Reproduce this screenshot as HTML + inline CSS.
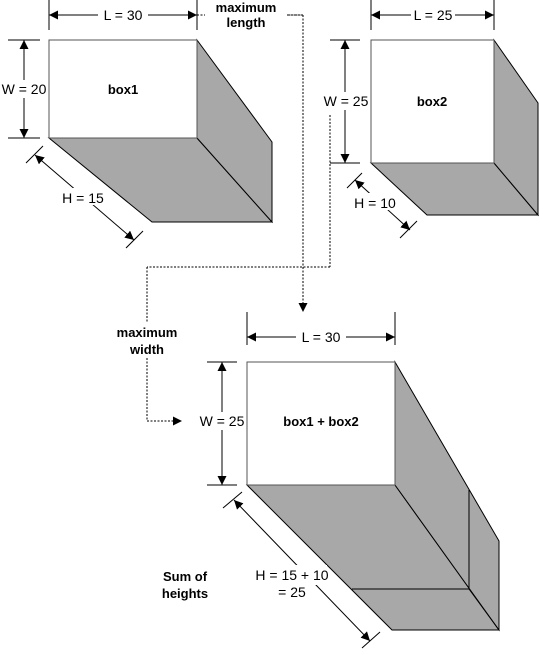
<!DOCTYPE html>
<html><head><meta charset="utf-8"><style>
html,body{margin:0;padding:0;background:#fff}
svg{display:block}
text{font-family:"Liberation Sans",sans-serif;font-size:14px;fill:#000}
.b{font-weight:bold;font-size:13px}
</style></head><body>
<svg width="539" height="655" viewBox="0 0 539 655" xmlns="http://www.w3.org/2000/svg">
<defs>
<marker id="a" viewBox="0 0 10 10" refX="10" refY="5" markerWidth="9" markerHeight="9" orient="auto-start-reverse" markerUnits="userSpaceOnUse"><path d="M0,0L10,5L0,10z" fill="#000"/></marker>
</defs>
<g stroke="#000" stroke-width="1" fill="none">
<polygon points="49,138 197,138 272,222 152,222" fill="#a8a8a8"/>
<polygon points="197,40 272,142 272,222 197,138" fill="#a8a8a8"/>
<rect x="49" y="40" width="148" height="98" fill="#fff" stroke="#555"/>
<line x1="49" y1="0" x2="49" y2="30"/><line x1="197" y1="0" x2="197" y2="30"/>
<line x1="49" y1="15" x2="197" y2="15" marker-start="url(#a)" marker-end="url(#a)"/>
<line x1="8" y1="40" x2="40" y2="40"/><line x1="8" y1="138" x2="40" y2="138"/>
<line x1="24" y1="40" x2="24" y2="138" marker-start="url(#a)" marker-end="url(#a)"/>
<line x1="26" y1="163" x2="43" y2="146"/><line x1="126" y1="248" x2="143" y2="231"/>
<line x1="35" y1="155" x2="134" y2="240" marker-start="url(#a)" marker-end="url(#a)"/>
<polygon points="371,163 494,163 538,215 427,215" fill="#a8a8a8"/>
<polygon points="494,40 538,103 538,215 494,163" fill="#a8a8a8"/>
<rect x="371" y="40" width="123" height="123" fill="#fff" stroke="#555"/>
<line x1="371" y1="0" x2="371" y2="30"/><line x1="494" y1="0" x2="494" y2="30"/>
<line x1="371" y1="15" x2="494" y2="15" marker-start="url(#a)" marker-end="url(#a)"/>
<line x1="330" y1="40" x2="360" y2="40"/><line x1="330" y1="163" x2="360" y2="163"/>
<line x1="345" y1="40" x2="345" y2="163" marker-start="url(#a)" marker-end="url(#a)"/>
<line x1="347" y1="188" x2="362" y2="173"/><line x1="400" y1="238" x2="417" y2="221"/>
<line x1="355" y1="180" x2="410" y2="230" marker-start="url(#a)" marker-end="url(#a)"/>
<polygon points="247,485 395,485 499,630 392,630" fill="#a8a8a8"/>
<polygon points="395,362 499,541 499,630 395,485" fill="#a8a8a8"/>
<line x1="469" y1="490" x2="469" y2="589"/>
<line x1="352" y1="589" x2="469" y2="589"/>
<line x1="469" y1="589" x2="499" y2="630"/>
<rect x="247" y="362" width="148" height="123" fill="#fff" stroke="#555"/>
<line x1="247" y1="312" x2="247" y2="345"/><line x1="395" y1="312" x2="395" y2="345"/>
<line x1="247" y1="337" x2="395" y2="337" marker-start="url(#a)" marker-end="url(#a)"/>
<line x1="207" y1="362" x2="237" y2="362"/><line x1="207" y1="485" x2="237" y2="485"/>
<line x1="222" y1="362" x2="222" y2="485" marker-start="url(#a)" marker-end="url(#a)"/>
<line x1="223" y1="508" x2="242" y2="492"/><line x1="362" y1="648" x2="380" y2="632"/>
<line x1="234" y1="500" x2="370" y2="641" marker-start="url(#a)" marker-end="url(#a)"/>
<g stroke-dasharray="2,1.5">
<line x1="197" y1="15" x2="303" y2="15"/>
<line x1="303" y1="15" x2="303" y2="312" marker-end="url(#a)"/>
<line x1="330" y1="115" x2="330" y2="267"/>
<line x1="330" y1="267" x2="147" y2="267"/>
<line x1="147" y1="267" x2="147" y2="322"/>
<line x1="147" y1="358" x2="147" y2="421"/>
<line x1="147" y1="421" x2="182" y2="421" marker-end="url(#a)"/>
</g>
</g>
<rect x="98" y="6" width="50" height="18" fill="#fff"/>
<rect x="411" y="6" width="44" height="18" fill="#fff"/>
<rect x="296" y="328" width="50" height="18" fill="#fff"/>
<rect x="2" y="80" width="46" height="18" fill="#fff"/>
<rect x="321" y="92" width="49" height="18" fill="#fff"/>
<rect x="198" y="412" width="48" height="18" fill="#fff"/>
<rect x="58" y="188" width="50" height="17" fill="#fff"/>
<rect x="355" y="193" width="40" height="17" fill="#fff"/>
<rect x="255" y="565" width="72" height="20" fill="#fff"/>
<text x="123" y="20" text-anchor="middle">L = 30</text>
<text x="433" y="20" text-anchor="middle">L = 25</text>
<text x="321" y="342" text-anchor="middle">L = 30</text>
<text x="24" y="94" text-anchor="middle">W = 20</text>
<text x="346" y="106" text-anchor="middle">W = 25</text>
<text x="222" y="426" text-anchor="middle">W = 25</text>
<text x="83" y="203" text-anchor="middle">H = 15</text>
<text x="375" y="208" text-anchor="middle">H = 10</text>
<text x="292" y="580" text-anchor="middle">H = 15 + 10</text>
<text x="292" y="597" text-anchor="middle">= 25</text>
<rect x="205" y="0" width="82" height="30" fill="#fff"/>
<text class="b" x="246" y="12" text-anchor="middle">maximum</text>
<text class="b" x="246" y="27" text-anchor="middle">length</text>
<text class="b" x="147" y="337" text-anchor="middle">maximum</text>
<text class="b" x="147" y="354" text-anchor="middle">width</text>
<text class="b" x="185" y="581" text-anchor="middle">Sum of</text>
<text class="b" x="185" y="598" text-anchor="middle">heights</text>
<text class="b" x="123" y="94" text-anchor="middle">box1</text>
<text class="b" x="432" y="106" text-anchor="middle">box2</text>
<text class="b" x="321" y="426" text-anchor="middle">box1 + box2</text>
<line x1="197" y1="15" x2="205" y2="15" stroke="#000" stroke-dasharray="2,1.5"/>
<line x1="287" y1="15" x2="303" y2="15" stroke="#000" stroke-dasharray="2,1.5"/>
</svg>
</body></html>
